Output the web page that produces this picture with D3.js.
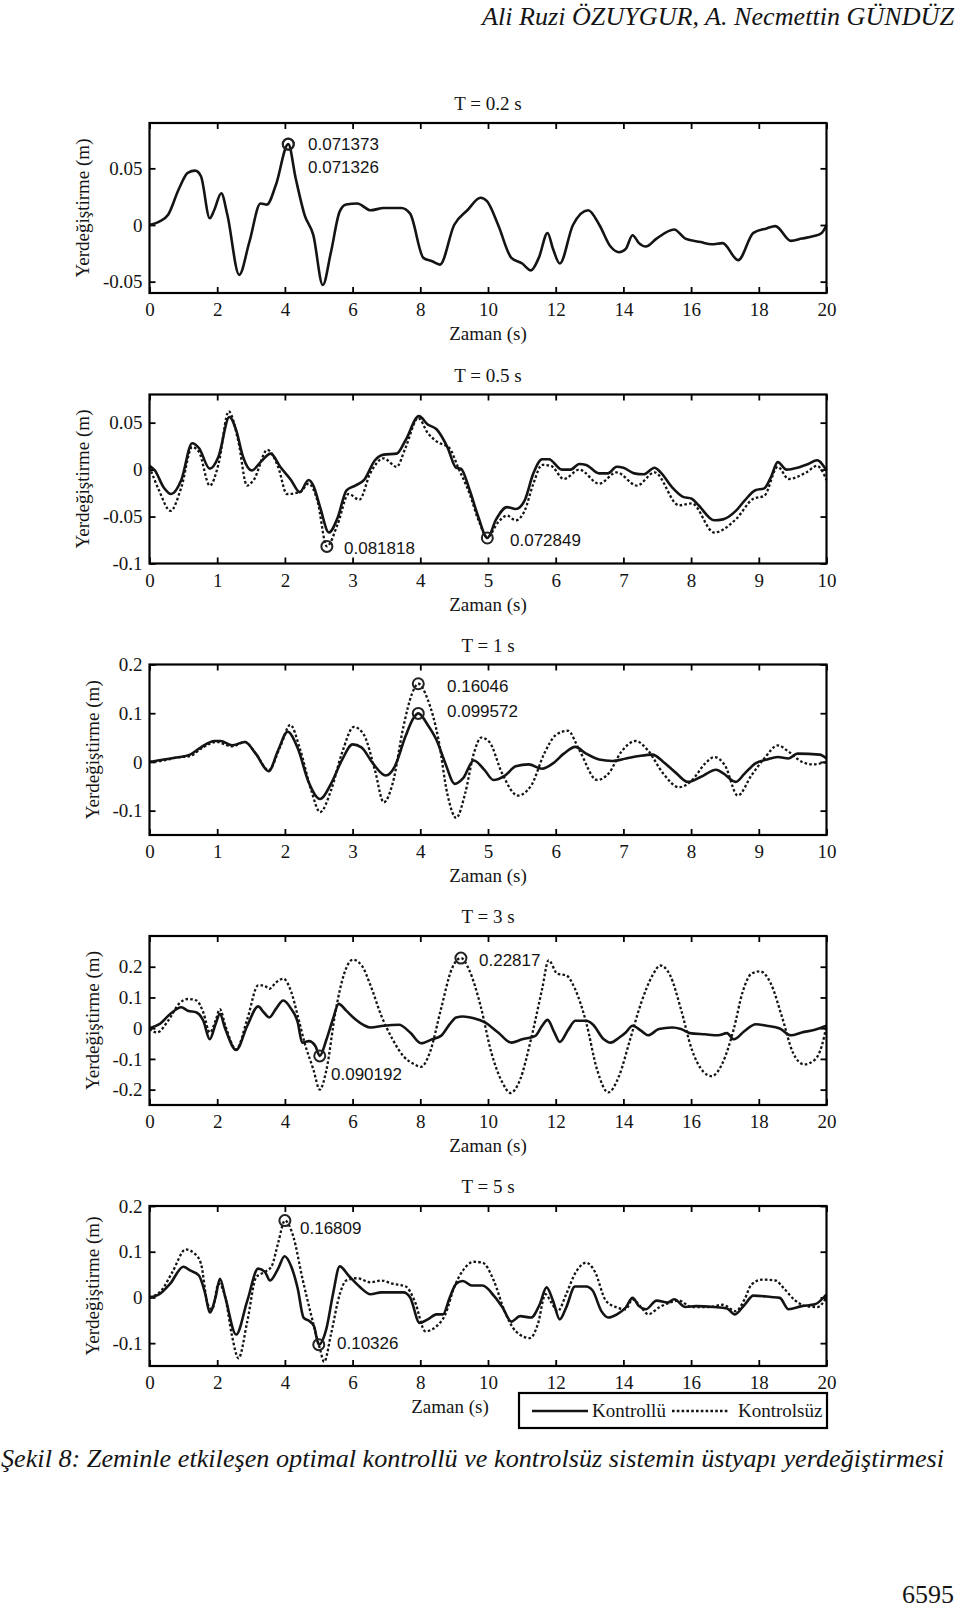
<!DOCTYPE html>
<html><head><meta charset="utf-8">
<script src="https://cdn.jsdelivr.net/npm/d3@7"></script>
<style>html,body{margin:0;padding:0;background:#fff;}svg{display:block;}</style>
</head><body>
<script>
// ---------------- DATA ----------------
const panelTitles = ["T = 0.2 s", "T = 0.5 s", "T = 1 s", "T = 3 s", "T = 5 s"];
const xTicks20 = [0,2,4,6,8,10,12,14,16,18,20];
const xTicks10 = [0,1,2,3,4,5,6,7,8,9,10];
const yTicksA = [-0.05, 0, 0.05];
const yTicksB = [-0.1, -0.05, 0, 0.05];
const yTicksC = [-0.1, 0, 0.1, 0.2];
const yTicksD = [-0.2, -0.1, 0, 0.1, 0.2];
const legendLabels = ["Kontrollü", "Kontrolsüz"];

// T = 0.2 s  (controlled and uncontrolled coincide)
const ctrl02 = [[0,0],[0.29,0.003],[0.55,0.009],[0.87,0.032],[1.13,0.046],[1.35,0.048],[1.52,0.043],[1.78,0.006],[1.91,0.013],[2.12,0.028],[2.3,0.009],[2.65,-0.044],[2.95,-0.015],[3.28,0.019],[3.47,0.018],[3.73,0.035],[4.1,0.0714],[4.32,0.041],[4.58,0.009],[4.84,-0.009],[5.12,-0.053],[5.36,-0.024],[5.62,0.012],[5.81,0.018],[6.14,0.019],[6.53,0.013],[6.92,0.015],[7.44,0.015],[7.7,0.010],[8.09,-0.029],[8.35,-0.032],[8.58,-0.035],[9.0,0],[9.39,0.013],[9.78,0.024],[9.97,0.021],[10.3,0],[10.69,-0.029],[11.01,-0.034],[11.27,-0.040],[11.5,-0.029],[11.76,-0.007],[11.92,-0.021],[12.12,-0.034],[12.51,0],[12.96,0.013],[13.29,0],[13.62,-0.019],[13.87,-0.024],[14.07,-0.021],[14.27,-0.009],[14.46,-0.016],[14.66,-0.019],[14.98,-0.012],[15.5,-0.004],[15.83,-0.012],[16.28,-0.015],[16.61,-0.017],[16.93,-0.016],[17.39,-0.031],[17.84,-0.007],[18.23,-0.003],[18.49,-0.001],[18.95,-0.014],[19.27,-0.012],[19.6,-0.010],[19.86,-0.007],[20,0]];

// T = 0.5 s
const ctrl05 = [[0,0.004],[0.08,-0.001],[0.21,-0.019],[0.32,-0.026],[0.47,-0.011],[0.63,0.028],[0.73,0.023],[0.89,0.001],[1.02,0.014],[1.18,0.056],[1.28,0.042],[1.38,0.014],[1.51,-0.001],[1.64,0.008],[1.79,0.017],[1.93,0.003],[2.09,-0.011],[2.22,-0.024],[2.35,-0.011],[2.42,-0.017],[2.52,-0.040],[2.65,-0.067],[2.78,-0.051],[2.91,-0.022],[3.04,-0.017],[3.17,-0.011],[3.33,0.010],[3.46,0.016],[3.65,0.017],[3.78,0.031],[3.98,0.057],[4.11,0.048],[4.24,0.043],[4.4,0.024],[4.53,0.002],[4.6,0.001],[4.73,-0.022],[4.86,-0.051],[4.99,-0.0728],[5.12,-0.053],[5.28,-0.040],[5.41,-0.042],[5.54,-0.033],[5.67,-0.004],[5.8,0.011],[5.9,0.011],[6.09,0],[6.22,0],[6.35,0.006],[6.45,0.005],[6.64,-0.004],[6.77,-0.004],[6.9,0.003],[7.0,0.002],[7.16,-0.004],[7.3,-0.005],[7.46,0.002],[7.55,-0.003],[7.72,-0.019],[7.88,-0.029],[8.01,-0.031],[8.11,-0.038],[8.34,-0.054],[8.47,-0.053],[8.66,-0.044],[8.79,-0.033],[8.95,-0.022],[9.08,-0.020],[9.18,-0.008],[9.28,0.008],[9.41,0],[9.57,0.002],[9.73,0.006],[9.86,0.010],[10,-0.001]];
const unctrl05 = [[0,0.003],[0.14,-0.022],[0.31,-0.044],[0.47,-0.019],[0.63,0.024],[0.73,0.019],[0.89,-0.017],[1.02,0.006],[1.17,0.062],[1.31,0.031],[1.44,-0.017],[1.54,-0.011],[1.74,0.021],[1.9,0.003],[2.03,-0.026],[2.22,-0.024],[2.35,-0.015],[2.48,-0.033],[2.62,-0.0818],[2.78,-0.058],[2.94,-0.026],[3.1,-0.032],[3.26,-0.004],[3.46,0.012],[3.65,0.003],[3.78,0.023],[3.97,0.055],[4.11,0.039],[4.24,0.030],[4.43,0.023],[4.56,0.002],[4.73,-0.026],[4.86,-0.054],[4.99,-0.072],[5.15,-0.056],[5.28,-0.049],[5.41,-0.054],[5.54,-0.044],[5.67,-0.015],[5.8,0.005],[5.93,0.004],[6.12,-0.010],[6.35,0],[6.64,-0.015],[6.9,-0.003],[7.2,-0.017],[7.46,-0.003],[7.82,-0.038],[8.01,-0.036],[8.34,-0.067],[8.66,-0.053],[8.92,-0.031],[9.08,-0.028],[9.28,0.003],[9.44,-0.010],[9.7,-0.003],[9.86,0.004],[10,-0.011]];

// T = 1 s
const ctrl1 = [[0,0],[0.21,0.005],[0.4,0.009],[0.6,0.015],[0.76,0.030],[0.96,0.043],[1.05,0.043],[1.22,0.034],[1.41,0.041],[1.57,0.017],[1.76,-0.019],[1.9,0.024],[2.04,0.062],[2.19,0.028],[2.35,-0.041],[2.52,-0.076],[2.68,-0.045],[2.84,0.003],[3.0,0.036],[3.13,0.030],[3.3,-0.003],[3.49,-0.028],[3.62,-0.010],[3.78,0.052],[3.9,0.090],[3.97,0.0996],[4.11,0.076],[4.24,0.045],[4.37,-0.003],[4.51,-0.045],[4.63,-0.034],[4.79,0.003],[4.95,-0.017],[5.08,-0.037],[5.25,-0.028],[5.41,-0.009],[5.6,-0.005],[5.8,-0.014],[5.96,-0.003],[6.12,0.017],[6.29,0.031],[6.45,0.017],[6.64,0.005],[6.84,0.002],[7.04,0.007],[7.23,0.012],[7.43,0.015],[7.59,0],[7.78,-0.023],[7.95,-0.041],[8.14,-0.031],[8.37,-0.016],[8.47,-0.023],[8.66,-0.041],[8.79,-0.024],[8.95,-0.003],[9.12,0.005],[9.28,0.010],[9.44,0.007],[9.57,0.017],[9.9,0.015],[10,0.007]];
const unctrl1 = [[0,0],[0.21,0.003],[0.4,0.009],[0.6,0.012],[0.79,0.030],[0.99,0.041],[1.22,0.032],[1.41,0.041],[1.57,0.017],[1.76,-0.017],[1.93,0.031],[2.08,0.076],[2.22,0.028],[2.39,-0.059],[2.52,-0.103],[2.68,-0.059],[2.84,0.017],[3.02,0.072],[3.17,0.055],[3.33,-0.017],[3.46,-0.083],[3.59,-0.045],[3.75,0.072],[3.88,0.141],[3.97,0.1605],[4.11,0.128],[4.27,0.045],[4.4,-0.066],[4.53,-0.115],[4.66,-0.066],[4.79,0.017],[4.9,0.050],[5.02,0.041],[5.21,-0.024],[5.44,-0.069],[5.64,-0.048],[5.83,0.017],[6.0,0.055],[6.18,0.064],[6.35,0.024],[6.61,-0.037],[6.78,-0.024],[6.97,0.021],[7.18,0.043],[7.36,0.024],[7.59,-0.024],[7.82,-0.052],[8.01,-0.038],[8.21,-0.003],[8.34,0.010],[8.5,-0.007],[8.69,-0.069],[8.89,-0.028],[9.08,0.007],[9.28,0.034],[9.44,0.021],[9.64,0],[9.8,-0.005],[10,0]];

// T = 3 s
const ctrl3 = [[0,0],[0.29,0.013],[0.61,0.046],[0.94,0.068],[1.13,0.057],[1.39,0.051],[1.59,0.024],[1.78,-0.036],[1.95,0.013],[2.08,0.046],[2.24,-0.003],[2.56,-0.071],[2.89,0.008],[3.21,0.071],[3.38,0.051],[3.54,0.035],[3.73,0.062],[3.95,0.090],[4.19,0.062],[4.38,0.019],[4.51,-0.047],[4.71,-0.042],[4.9,-0.058],[5.03,-0.0902],[5.23,-0.036],[5.42,0.030],[5.59,0.079],[5.81,0.057],[6.07,0.030],[6.33,0.010],[6.53,0.002],[6.92,0.008],[7.37,0.011],[7.7,-0.014],[8.02,-0.049],[8.35,-0.036],[8.61,-0.025],[8.87,0.013],[9.06,0.035],[9.26,0.038],[9.58,0.032],[9.91,0.019],[10.3,-0.014],[10.69,-0.047],[11.01,-0.036],[11.4,-0.025],[11.6,0.008],[11.76,0.027],[11.96,-0.014],[12.12,-0.045],[12.38,-0.003],[12.58,0.024],[12.9,0.024],[13.09,0.013],[13.42,-0.036],[13.62,-0.047],[13.87,-0.031],[14.07,-0.014],[14.27,0.008],[14.53,-0.009],[14.73,-0.023],[15.05,-0.003],[15.44,0.002],[15.7,-0.003],[15.96,-0.016],[16.41,-0.020],[16.8,-0.023],[17.06,-0.016],[17.26,-0.036],[17.58,-0.009],[17.91,0.013],[18.23,0.008],[18.62,-0.001],[18.95,-0.023],[19.27,-0.014],[19.66,-0.005],[20,0.008]];
const unctrl3 = [[0,-0.003],[0.22,-0.014],[0.55,0.024],[0.87,0.079],[1.13,0.095],[1.39,0.090],[1.59,0.051],[1.78,-0.014],[1.95,0.024],[2.08,0.062],[2.24,0.008],[2.56,-0.069],[2.89,0.030],[3.21,0.139],[3.38,0.139],[3.54,0.128],[3.73,0.148],[3.95,0.161],[4.19,0.117],[4.38,0.040],[4.58,-0.047],[4.84,-0.134],[5.03,-0.200],[5.23,-0.134],[5.49,0.051],[5.75,0.177],[6.01,0.223],[6.27,0.204],[6.53,0.139],[6.85,0.040],[7.18,-0.036],[7.5,-0.091],[7.83,-0.118],[8.02,-0.126],[8.28,-0.080],[8.61,0.062],[8.93,0.193],[9.2,0.2282],[9.45,0.188],[9.78,0.073],[10.1,-0.080],[10.43,-0.178],[10.66,-0.211],[10.95,-0.167],[11.27,-0.036],[11.6,0.128],[11.79,0.221],[12.05,0.177],[12.31,0.172],[12.57,0.128],[12.9,0.019],[13.22,-0.134],[13.55,-0.209],[13.87,-0.156],[14.2,-0.036],[14.53,0.084],[14.86,0.172],[15.09,0.204],[15.38,0.172],[15.7,0.062],[16.02,-0.069],[16.35,-0.140],[16.61,-0.156],[16.93,-0.113],[17.26,-0.003],[17.52,0.117],[17.78,0.177],[18.04,0.185],[18.36,0.144],[18.69,0.035],[19.01,-0.080],[19.34,-0.118],[19.66,-0.102],[19.86,-0.058],[20,0.008]];

// T = 5 s
const ctrl5 = [[0,0],[0.29,0.007],[0.61,0.030],[1.0,0.067],[1.2,0.059],[1.46,0.048],[1.65,0.007],[1.78,-0.033],[1.95,0],[2.08,0.041],[2.24,0],[2.56,-0.081],[2.89,-0.007],[3.21,0.063],[3.41,0.056],[3.56,0.037],[3.8,0.063],[3.99,0.090],[4.19,0.067],[4.38,0.019],[4.55,-0.044],[4.73,-0.052],[4.86,-0.063],[5.0,-0.1033],[5.23,-0.067],[5.42,0.007],[5.62,0.068],[5.88,0.048],[6.2,0.024],[6.53,0.007],[6.85,0.011],[7.18,0.011],[7.5,0.011],[7.7,0],[7.98,-0.056],[8.22,-0.048],[8.48,-0.037],[8.67,-0.037],[8.87,0],[9.06,0.030],[9.26,0.036],[9.52,0.026],[9.84,0.026],[10.17,0.004],[10.43,-0.022],[10.69,-0.053],[10.95,-0.041],[11.27,-0.044],[11.53,-0.015],[11.73,0.022],[11.92,-0.007],[12.12,-0.048],[12.31,-0.022],[12.57,0.024],[12.9,0.024],[13.09,0.015],[13.35,-0.030],[13.55,-0.044],[13.81,-0.037],[14.07,-0.022],[14.27,-0.001],[14.46,-0.019],[14.66,-0.026],[14.98,-0.007],[15.31,-0.011],[15.5,-0.004],[15.83,-0.021],[16.15,-0.019],[16.67,-0.021],[17.06,-0.024],[17.29,-0.037],[17.58,-0.016],[17.84,0.004],[18.36,0.001],[18.62,-0.001],[18.88,-0.026],[19.27,-0.019],[19.66,-0.015],[20,0.007]];
const unctrl5 = [[0,0],[0.35,0.015],[0.68,0.056],[1.07,0.105],[1.33,0.096],[1.52,0.074],[1.72,-0.015],[1.85,-0.026],[2.04,0.030],[2.24,0],[2.43,-0.081],[2.63,-0.133],[2.89,-0.052],[3.15,0.044],[3.41,0.056],[3.6,0.067],[3.8,0.119],[4.0,0.1681],[4.25,0.133],[4.51,0.044],[4.77,-0.037],[5.03,-0.111],[5.16,-0.141],[5.36,-0.081],[5.62,0.007],[5.81,0.037],[6.14,0.042],[6.53,0.033],[6.85,0.037],[7.18,0.030],[7.57,0.024],[7.83,-0.007],[8.15,-0.074],[8.48,-0.063],[8.74,-0.037],[9.0,0.022],[9.26,0.059],[9.58,0.078],[9.84,0.076],[10.17,0.037],[10.49,-0.030],[10.82,-0.074],[11.24,-0.089],[11.47,-0.059],[11.7,0.007],[11.87,-0.011],[12.06,-0.030],[12.31,0.007],[12.57,0.052],[12.9,0.076],[13.16,0.056],[13.48,-0.007],[13.81,-0.022],[14.07,-0.026],[14.27,-0.004],[14.53,-0.022],[14.73,-0.037],[15.05,-0.022],[15.38,-0.011],[15.64,-0.007],[16.02,-0.021],[16.54,-0.021],[16.93,-0.016],[17.32,-0.030],[17.58,-0.004],[17.78,0.028],[18.1,0.039],[18.49,0.037],[18.75,0.019],[19.08,-0.007],[19.4,-0.019],[19.73,-0.021],[20,0]];

// peak markers: [time, value, label]
const marks02 = [[4.1, 0.0714, "0.071373"], [4.1, 0.0713, "0.071326"]];
const marks05 = [[2.62, -0.0818, "0.081818"], [4.99, -0.0728, "0.072849"]];
const marks1 = [[3.97, 0.1605, "0.16046"], [3.97, 0.0996, "0.099572"]];
const marks3 = [[9.2, 0.2282, "0.22817"], [5.03, -0.0902, "0.090192"]];
const marks5 = [[4.0, 0.1681, "0.16809"], [5.0, -0.1033, "0.10326"]];

// ---------------- LAYOUT ----------------
const W = 960, H = 1608;
const X0 = 149.5, X1 = 826.5;
const SERIF = "'Liberation Serif','Times New Roman',Times,serif";
const SANS = "'Liberation Sans',Arial,Helvetica,sans-serif";
const INK = "#141414";

const panels = [
  {title: panelTitles[0], top: 123, bottom: 293, xlim:[0,20], ylim:[-0.06,0.09], xt:xTicks20, yt:yTicksA, ctrl:ctrl02, unctrl:null, marks:marks02,
   labels:[[308,150],[308,173]], ylabX: 89, xlabX: 488},
  {title: panelTitles[1], top: 394.5, bottom: 563.5, xlim:[0,10], ylim:[-0.1,0.08], xt:xTicks10, yt:yTicksB, ctrl:ctrl05, unctrl:unctrl05, marks:marks05,
   labels:[[344,554],[510,546]], ylabX: 89, xlabX: 488},
  {title: panelTitles[2], top: 664.5, bottom: 835, xlim:[0,10], ylim:[-0.15,0.2], xt:xTicks10, yt:yTicksC, ctrl:ctrl1, unctrl:unctrl1, marks:marks1,
   labels:[[447,692],[447,717]], ylabX: 99, xlabX: 488},
  {title: panelTitles[3], top: 936, bottom: 1105, xlim:[0,20], ylim:[-0.25,0.3], xt:xTicks20, yt:yTicksD, ctrl:ctrl3, unctrl:unctrl3, marks:marks3,
   labels:[[479,966],[331,1080]], ylabX: 99, xlabX: 488},
  {title: panelTitles[4], top: 1206, bottom: 1366, xlim:[0,20], ylim:[-0.15,0.2], xt:xTicks20, yt:yTicksC, ctrl:ctrl5, unctrl:unctrl5, marks:marks5,
   labels:[[300,1234],[337,1349]], ylabX: 99, xlabX: 450}
];

const svg = d3.select("body").append("svg").attr("width", W).attr("height", H)
  .style("font-family", SERIF);

// header
svg.append("text").attr("x", 954).attr("y", 25).attr("text-anchor", "end")
  .attr("font-size", 26).attr("font-style", "italic").attr("fill", INK)
  .attr("textLength", 472).attr("lengthAdjust", "spacingAndGlyphs")
  .text("Ali Ruzi ÖZUYGUR, A. Necmettin GÜNDÜZ");

const fmt = v => (v === 0 ? "0" : String(v));

panels.forEach((p, i) => {
  const x = d3.scaleLinear().domain(p.xlim).range([X0, X1]);
  const y = d3.scaleLinear().domain(p.ylim).range([p.bottom, p.top]);
  const g = svg.append("g");

  // title
  g.append("text").attr("x", (X0 + X1) / 2).attr("y", p.top - 13).attr("text-anchor", "middle")
    .attr("font-size", 19).attr("fill", INK).text(p.title);

  // axes (ticks inward on all four sides)
  const styleAxis = sel => {
    sel.select(".domain").remove();
    sel.selectAll(".tick line").attr("stroke", "#000").attr("stroke-width", 1.8);
    sel.selectAll(".tick text").attr("fill", INK).attr("font-size", 19).attr("font-family", SERIF);
  };
  g.append("g").attr("transform", `translate(0,${p.bottom})`)
    .call(d3.axisBottom(x).tickValues(p.xt).tickFormat(fmt).tickSize(-6).tickPadding(10)).call(styleAxis);
  g.append("g").attr("transform", `translate(0,${p.top})`)
    .call(d3.axisTop(x).tickValues(p.xt).tickFormat("").tickSize(-6)).call(styleAxis);
  g.append("g").attr("transform", `translate(${X0},0)`)
    .call(d3.axisLeft(y).tickValues(p.yt).tickFormat(fmt).tickSize(-6).tickPadding(7)).call(styleAxis);
  g.append("g").attr("transform", `translate(${X1},0)`)
    .call(d3.axisRight(y).tickValues(p.yt).tickFormat("").tickSize(-6)).call(styleAxis);

  // lines
  const line = d3.line().x(d => x(d[0])).y(d => y(d[1])).curve(d3.curveMonotoneX);
  if (p.unctrl) {
    g.append("path").datum(p.unctrl).attr("d", line).attr("fill", "none")
      .attr("stroke", INK).attr("stroke-width", 2.3).attr("stroke-dasharray", "2.6,2.2");
  }
  g.append("path").datum(p.ctrl).attr("d", line).attr("fill", "none")
    .attr("stroke", INK).attr("stroke-width", 2.6).attr("stroke-linejoin", "round");

  // markers
  p.marks.forEach((m, k) => {
    g.append("circle").attr("cx", x(m[0])).attr("cy", y(m[1])).attr("r", 5.5)
      .attr("fill", "none").attr("stroke", "#222").attr("stroke-width", 2);
    g.append("text").attr("x", p.labels[k][0]).attr("y", p.labels[k][1])
      .attr("font-family", SANS).attr("font-size", 17).attr("fill", INK).text(m[2]);
  });

  // box
  g.append("rect").attr("x", X0).attr("y", p.top).attr("width", X1 - X0).attr("height", p.bottom - p.top)
    .attr("fill", "none").attr("stroke", "#000").attr("stroke-width", 2.2);

  // axis labels
  g.append("text").attr("x", p.xlabX).attr("y", p.bottom + 47).attr("text-anchor", "middle")
    .attr("font-size", 19).attr("fill", INK).text("Zaman (s)");
  g.append("text").attr("transform", `translate(${p.ylabX},${(p.top + p.bottom) / 2}) rotate(-90)`)
    .attr("text-anchor", "middle").attr("font-size", 19).attr("fill", INK).text("Yerdeğiştirme (m)");
});

// legend
const lg = svg.append("g");
lg.append("rect").attr("x", 519).attr("y", 1393).attr("width", 308).attr("height", 35)
  .attr("fill", "#fff").attr("stroke", "#000").attr("stroke-width", 2.2);
lg.append("line").attr("x1", 532).attr("x2", 588).attr("y1", 1411).attr("y2", 1411)
  .attr("stroke", INK).attr("stroke-width", 2.6);
lg.append("text").attr("x", 592).attr("y", 1417).attr("font-size", 19).attr("fill", INK).text(legendLabels[0]);
lg.append("line").attr("x1", 672).attr("x2", 728).attr("y1", 1411).attr("y2", 1411)
  .attr("stroke", INK).attr("stroke-width", 2.3).attr("stroke-dasharray", "2.6,2.2");
lg.append("text").attr("x", 738).attr("y", 1417).attr("font-size", 19).attr("fill", INK).text(legendLabels[1]);

// caption & page number
svg.append("text").attr("x", 1).attr("y", 1467).attr("font-size", 25).attr("font-style", "italic")
  .attr("fill", INK).attr("textLength", 943).attr("lengthAdjust", "spacingAndGlyphs")
  .text("Şekil 8: Zeminle etkileşen optimal kontrollü ve kontrolsüz sistemin üstyapı yerdeğiştirmesi");
svg.append("text").attr("x", 954).attr("y", 1603).attr("text-anchor", "end").attr("font-size", 26)
  .attr("fill", INK).attr("textLength", 52).attr("lengthAdjust", "spacingAndGlyphs").text("6595");
</script>
</body></html>
